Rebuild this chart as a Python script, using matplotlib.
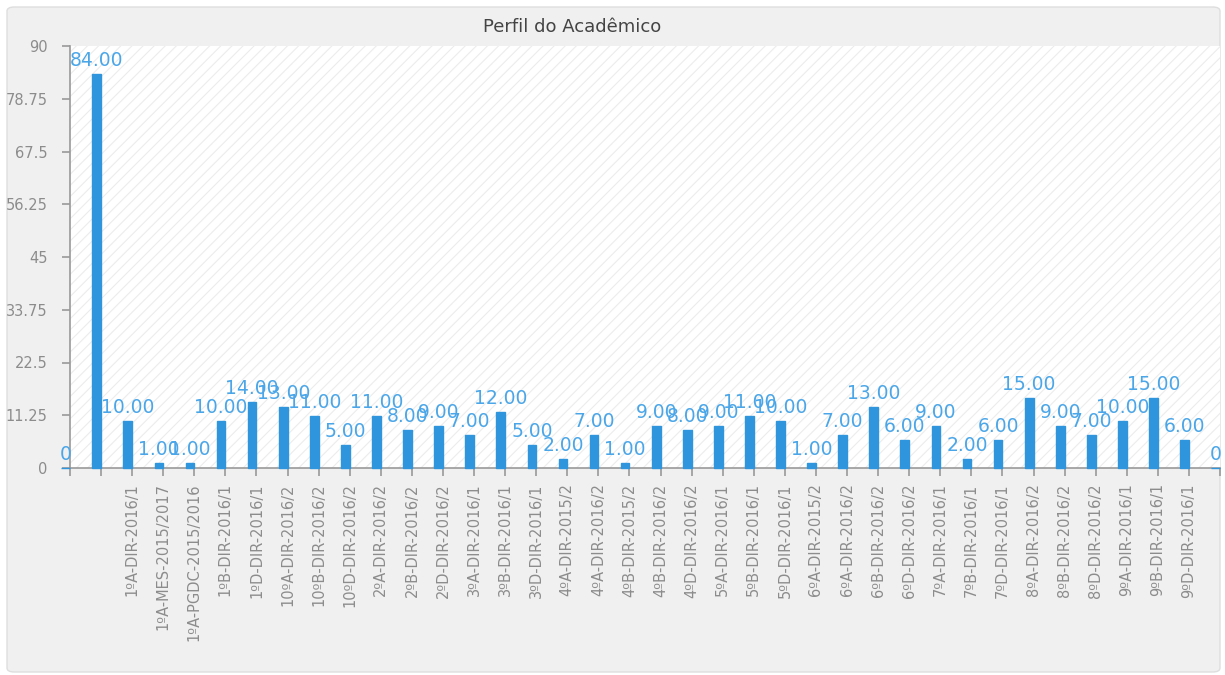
import matplotlib
matplotlib.use("Agg")
import matplotlib.pyplot as plt
import matplotlib.transforms as mtransforms
from matplotlib.patches import FancyBboxPatch, Rectangle
import numpy as np

# data (first and last points are empty edge points)
turmas = ['', '',
          '1ºA-DIR-2016/1', '1ºA-MES-2015/2017', '1ºA-PGDC-2015/2016', '1ºB-DIR-2016/1',
          '1ºD-DIR-2016/1', '10ºA-DIR-2016/2', '10ºB-DIR-2016/2', '10ºD-DIR-2016/2',
          '2ºA-DIR-2016/2', '2ºB-DIR-2016/2', '2ºD-DIR-2016/2', '3ºA-DIR-2016/1',
          '3ºB-DIR-2016/1', '3ºD-DIR-2016/1', '4ºA-DIR-2015/2', '4ºA-DIR-2016/2',
          '4ºB-DIR-2015/2', '4ºB-DIR-2016/2', '4ºD-DIR-2016/2', '5ºA-DIR-2016/1',
          '5ºB-DIR-2016/1', '5ºD-DIR-2016/1', '6ºA-DIR-2015/2', '6ºA-DIR-2016/2',
          '6ºB-DIR-2016/2', '6ºD-DIR-2016/2', '7ºA-DIR-2016/1', '7ºB-DIR-2016/1',
          '7ºD-DIR-2016/1', '8ºA-DIR-2016/2', '8ºB-DIR-2016/2', '8ºD-DIR-2016/2',
          '9ºA-DIR-2016/1', '9ºB-DIR-2016/1', '9ºD-DIR-2016/1', '']
alunos = [0, 84,
          10, 1, 1, 10, 14, 13, 11, 5, 11, 8, 9, 7, 12, 5, 2, 7, 1,
          9, 8, 9, 11, 10, 1, 7, 13, 6, 9, 2, 6, 15, 9, 7, 10, 15, 6,
          0]
yticks = [0, 11.25, 22.5, 33.75, 45, 56.25, 67.5, 78.75, 90]
ytick_labels = ['0', '11.25', '22.5', '33.75', '45', '56.25', '67.5', '78.75', '90']

BAR = '#2f95dc'
LABEL = '#4aa6e8'
GREY = '#999999'

W, H = 1225, 675
fig = plt.figure(figsize=(W / 100, H / 100), dpi=100)
fig.patch.set_facecolor('white')

# rounded grey panel behind everything
panel = FancyBboxPatch((7 / W, 3 / H), 1213 / W, 665 / H,
                       boxstyle='round,pad=0,rounding_size=0.006',
                       transform=fig.transFigure, facecolor='#f0f0f0',
                       edgecolor='#dedede', linewidth=1, zorder=-10)
fig.patches.append(panel)

ax = fig.add_axes([70 / W, (H - 468) / H, 1150 / W, 422 / H])
ax.set_facecolor('white')
plt.rcParams['hatch.linewidth'] = 0.8
hatch = Rectangle((0, 0), 1, 1, transform=ax.transAxes, facecolor='white',
                  edgecolor='#ececec', hatch='///', linewidth=0, zorder=0)
ax.add_patch(hatch)

x = np.arange(len(alunos))
w = 0.28
bars = ax.bar(x - w / 2, alunos, width=w, color=BAR, edgecolor=BAR,
              linewidth=1, zorder=3)
for b in bars:
    b.set_clip_on(False)

lift = ax.transData + mtransforms.ScaledTranslation(0, 4 / 100, fig.dpi_scale_trans)
for xi, v in zip(x, alunos):
    txt = '0' if v == 0 else '%.2f' % v
    ax.text(xi - w / 2, v, txt, ha='center', va='bottom', color=LABEL,
            fontsize=13.5, zorder=4, transform=lift)

ax.set_xlim(0, len(alunos) - 1)
ax.set_ylim(0, 90)
ax.set_yticks(yticks)
ax.set_yticklabels(ytick_labels)
ax.set_xticks(x)
ax.set_xticklabels(turmas, rotation=90, va='top', ha='center')

offset = mtransforms.ScaledTranslation(-4 / 100, 0, fig.dpi_scale_trans)
for lbl in ax.get_xticklabels():
    lbl.set_transform(lbl.get_transform() + offset)

ax.tick_params(axis='both', colors=GREY, labelcolor='#8c8c8c',
               length=6, width=1.2)
ax.tick_params(axis='x', pad=5, labelsize=10.5)
ax.tick_params(axis='y', pad=10, labelsize=10.5)
for s in ['top', 'right']:
    ax.spines[s].set_visible(False)
for s in ['left', 'bottom']:
    ax.spines[s].set_color(GREY)
    ax.spines[s].set_linewidth(1.2)

fig.text(572 / W, 1 - 27 / H, 'Perfil do Acadêmico', ha='center', va='center',
         fontsize=13, color='#444444')

fig.savefig('out.png', dpi=100)
